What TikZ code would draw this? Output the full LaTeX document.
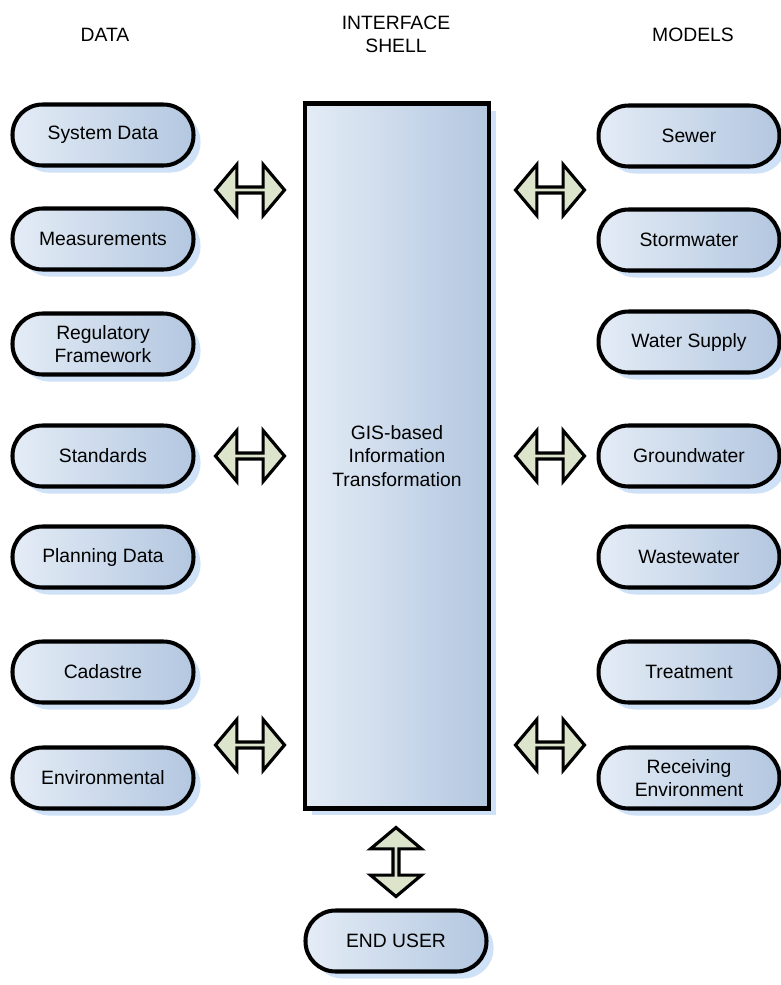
\documentclass[tikz,border=0pt]{standalone}
\usepackage{fontspec}
\setmainfont{Liberation Sans}
\usetikzlibrary{shapes.arrows,shadows,patterns}
\definecolor{boxL}{HTML}{E4ECF6}
\definecolor{boxR}{HTML}{B3C7E0}
\definecolor{arrFill}{HTML}{DCE4CC}
\definecolor{shadowBlue}{HTML}{5C9BE0}
\tikzset{
  dotshadow/.style={general shadow={shadow xshift=4pt,shadow yshift=-4pt,
      fill=shadowBlue!30}},
  databox/.style={draw=black,line width=2.3pt,rounded corners=0.6cm,
      left color=boxL,right color=boxR,minimum width=3.62cm,minimum height=1.22cm,
      align=center,font=\fontsize{11}{13}\selectfont,dotshadow},
  shellbox/.style={draw=black,line width=2.5pt,left color=boxL,right color=boxR,
      minimum width=3.68cm,minimum height=14.1cm,align=center,
      font=\fontsize{11}{13.5}\selectfont,dotshadow},
  blockarrow/.style={double arrow,draw=black,line width=1.8pt,fill=arrFill,
      minimum width=1.02cm,minimum height=1.38cm,double arrow head extend=0.24cm,
      double arrow tip angle=100,inner sep=0pt},
  header/.style={align=center,font=\fontsize{11}{13}\selectfont}
}
\begin{document}
\begin{tikzpicture}[x=0.02cm,y=-0.02cm]
\useasboundingbox (0,0) rectangle (781,985);

% titles
\node[header] (hData) at (105,35) {DATA};
\node[header] (hShell) at (396,34) {INTERFACE\\SHELL};
\node[header] (hModels) at (693,35) {MODELS};

% interface shell
\node[shellbox] (shell) at (397,456) {GIS-based\\Information\\Transformation};

% data side
\node[databox] (dSys) at (103,135) {System Data};
\node[databox] (dMeas) at (103,239) {Measurements};
\node[databox] (dReg) at (103,344) {Regulatory\\Framework};
\node[databox] (dStd) at (103,456) {Standards};
\node[databox] (dPlan) at (103,557) {Planning Data};
\node[databox] (dCad) at (103,672) {Cadastre};
\node[databox] (dEnv) at (103,778) {Environmental};

% model side
\node[databox] (mSew) at (689,136) {Sewer};
\node[databox] (mStorm) at (689,240) {Stormwater};
\node[databox] (mWater) at (689,342) {Water Supply};
\node[databox] (mGround) at (689,456) {Groundwater};
\node[databox] (mWaste) at (689,557) {Wastewater};
\node[databox] (mTreat) at (689,672) {Treatment};
\node[databox] (mRecv) at (689,778) {Receiving\\Environment};

% end user
\node[databox] (user) at (396,941) {END USER};

% arrows
\node[blockarrow] (aL1) at (250,190) {};
\node[blockarrow] (aL2) at (250,456) {};
\node[blockarrow] (aL3) at (250,745) {};
\node[blockarrow] (aR1) at (550,190) {};
\node[blockarrow] (aR2) at (550,456) {};
\node[blockarrow] (aR3) at (550,745) {};
\node[blockarrow,shape border rotate=90] (aU) at (396,862) {};

\end{tikzpicture}
\end{document}
